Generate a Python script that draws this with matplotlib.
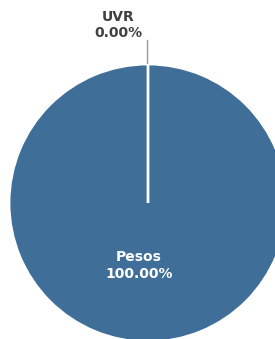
import numpy as np
import matplotlib
matplotlib.use('Agg')
import matplotlib.pyplot as plt

labels = ['UVR', 'Pesos']
values = [0.0, 100.0]
colors = ['#3f6e98', '#3f6e98']

W, H = 275, 339
cx, cy, r = 148, H - 203, 139

fig = plt.figure(figsize=(W / 100, H / 100), dpi=100)
ax = fig.add_axes([0, 0, 1, 1])

wedges, _ = ax.pie(values, colors=colors, startangle=90, counterclock=False,
                   center=(cx, cy), radius=r, frame=True,
                   wedgeprops=dict(edgecolor='white', linewidth=2))
# keep the zero-width slice (white separator) above the big one
wedges[0].set_zorder(5)
ax.set_xlim(0, W)
ax.set_ylim(0, H)
ax.set_aspect('equal')
ax.axis('off')

total = sum(values)
pct = [v / total * 100 for v in values]

# UVR: tiny slice at the top, label outside with leader line
w = wedges[0]
ang = np.deg2rad((w.theta1 + w.theta2) / 2)
x0, y0 = cx + r * np.cos(ang), cy + r * np.sin(ang)
ax.plot([x0 - 1, x0 - 1], [y0, y0 + 24], color='#999999', lw=1)
ax.text(x0 - 30, y0 + 39, '%s\n%.2f%%' % (labels[0], pct[0]), ha='center', va='center',
        fontsize=10, fontweight='bold', color='#404040', linespacing=1.2)

# Pesos: label inside
w = wedges[1]
ang = np.deg2rad((w.theta1 + w.theta2) / 2)
ax.text(cx - 9 + 0.45 * r * np.cos(ang), cy + 0.45 * r * np.sin(ang),
        '%s\n%.2f%%' % (labels[1], pct[1]), ha='center', va='center',
        fontsize=10, fontweight='bold', color='white', linespacing=1.2)

fig.savefig('out.png', dpi=100)
